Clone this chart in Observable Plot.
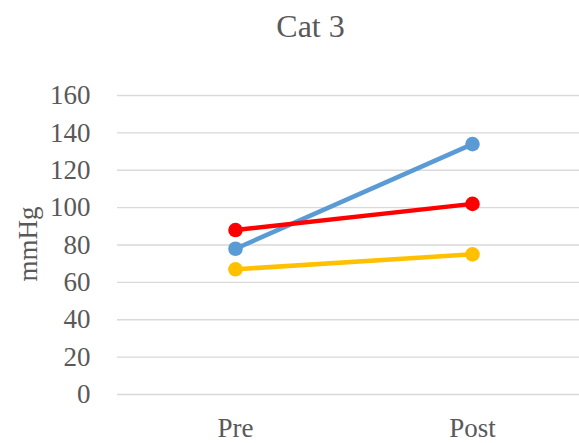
<!DOCTYPE html>
<html>
<head>
<meta charset="utf-8">
<script src="https://cdn.jsdelivr.net/npm/d3@7"></script>
<script src="https://cdn.jsdelivr.net/npm/@observablehq/plot@0.6"></script>
<style>
  html, body { margin: 0; padding: 0; background: #fff; }
  #wrap { width: 579px; height: 443px; position: relative; overflow: hidden; }
  #title { position: absolute; left: 42px; width: 537px; top: 8px; text-align: center;
    font-family: "Liberation Serif", "Times New Roman", serif; font-size: 32px; color: #595959; line-height: 36px; }
  #ylabel { position: absolute; left: 28px; top: 244px; transform: translate(-50%, -50%) rotate(-90deg);
    font-family: "Liberation Serif", "Times New Roman", serif; font-size: 27px; color: #595959; white-space: nowrap; line-height: 30px; }
  #chart { position: absolute; left: 0; top: 60px; }
</style>
</head>
<body>
<div id="wrap">
  <div id="title">Cat 3</div>
  <div id="chart"></div>
  <div id="ylabel">mmHg</div>
</div>
<script>
const categories = ["Pre", "Post"];
const seriesNames = ["Series 1", "Series 2", "Series 3"];
const seriesColors = ["#5B9BD5", "#FF0000", "#FFC000"];
const blueValues = [78, 134];
const redValues = [88, 102];
const yellowValues = [67, 75];
const yTicks = [0, 20, 40, 60, 80, 100, 120, 140, 160];

const allValues = [blueValues, redValues, yellowValues];
const data = [];
allValues.forEach((vals, s) => {
  vals.forEach((v, i) => data.push({series: seriesNames[s], cat: categories[i], value: v}));
});

const font = '"Liberation Serif", "Times New Roman", serif';
const plot = Plot.plot({
  width: 579,
  height: 383,
  marginTop: 35,
  marginBottom: 49,
  marginLeft: 117,
  marginRight: 0,
  style: { fontFamily: font, fontSize: "27px", color: "#595959", background: "transparent", overflow: "visible" },
  x: { type: "point", domain: categories, range: [235, 472], padding: 0, label: null },
  y: { domain: [0, 160], ticks: yTicks, label: null },
  color: { domain: seriesNames, range: seriesColors },
  marks: [
    Plot.ruleY(yTicks, { stroke: "#D9D9D9", strokeWidth: 1.3 }),
    Plot.axisY(yTicks, { tickSize: 0, tickPadding: 0, dx: -27, fill: "#595959", fontSize: 27, label: null }),
    Plot.axisX(categories, { tickSize: 0, tickPadding: 0, dy: 23, fill: "#595959", fontSize: 27, label: null }),
    Plot.line(data, { x: "cat", y: "value", z: "series", stroke: "series", strokeWidth: 4.5 }),
    Plot.dot(data, { x: "cat", y: "value", fill: "series", r: 7.3 })
  ]
});
document.getElementById("chart").appendChild(plot);
</script>
</body>
</html>
